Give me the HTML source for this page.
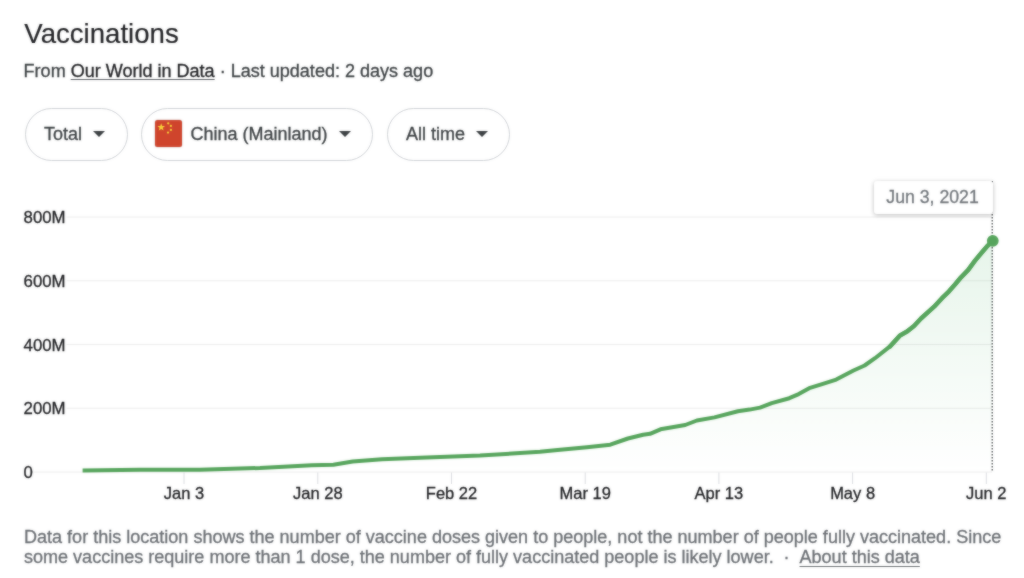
<!DOCTYPE html>
<html><head><meta charset="utf-8">
<style>
*{margin:0;padding:0;box-sizing:border-box}
html,body{width:1024px;height:578px;background:#fff;overflow:hidden}
body{position:relative;will-change:transform;font-family:"Liberation Sans",Arial,sans-serif;}
.abs{position:absolute;white-space:nowrap}
div,span{-webkit-text-stroke:0.3px currentColor}
#title{left:24.3px;top:19.6px;font-size:27.6px;line-height:27.6px;color:#202124;-webkit-text-stroke:0.15px #202124}
#sub{left:23.6px;top:62px;font-size:18.05px;line-height:18.05px;color:#3c4043}
#sub .lnk{color:#202124;text-decoration:underline;text-decoration-color:#5f6368;text-decoration-thickness:1px;text-underline-offset:2px}
.pill{position:absolute;top:108px;height:52.5px;border:1px solid #cfd2d6;border-radius:27px;background:#fff}
.pill .t{position:absolute;top:15.8px;font-size:18px;line-height:18px;color:#3c4043;white-space:nowrap}
.pill .arr{position:absolute;top:21.6px;width:0;height:0;border-left:6px solid transparent;border-right:6px solid transparent;border-top:6.2px solid #3c4043;margin-left:-1px}
.flag{position:absolute;left:13.4px;top:10.9px;width:27px;height:27px;border-radius:2.5px;background:#cf452d;overflow:hidden;box-shadow:0 0 0 0.5px rgba(0,0,0,0.15)}
.yl{position:absolute;left:23.6px;font-size:16.8px;line-height:16.8px;color:#202124;white-space:nowrap}
.xl{position:absolute;top:485.4px;width:100px;text-align:center;font-size:16.5px;line-height:16.5px;color:#202124;white-space:nowrap}
#tip{position:absolute;left:874px;top:180.6px;width:118.6px;height:33px;background:#fff;border-radius:3px;box-shadow:0 1px 4px rgba(0,0,0,0.28);}
#tip span{position:absolute;left:12.3px;top:8.0px;font-size:17.7px;line-height:17.7px;color:#70757a}
#foot{left:24px;top:526.5px;font-size:18.05px;line-height:20.8px;color:#6a6e73;white-space:nowrap}
#foot .lnk{text-decoration:underline;text-underline-offset:2.7px}
</style></head><body>
<div class="abs" id="title">Vaccinations</div>
<div class="abs" id="sub">From <span class="lnk">Our World in Data</span> · Last updated: 2 days ago</div>

<div class="pill" style="left:24.5px;width:103px"><span class="t" style="left:18.5px">Total</span><span class="arr" style="left:68.5px"></span></div>
<div class="pill" style="left:140.5px;width:232.5px"><div class="flag"><svg width="27" height="27" viewBox="0 0 27 27"><g fill="#f7d038">
<polygon points="6.2,3.2 7.2,6.0 10.1,6.0 7.8,7.8 8.6,10.6 6.2,8.9 3.8,10.6 4.6,7.8 2.3,6.0 5.2,6.0"/>
<circle cx="13.2" cy="3.3" r="1.15"/><circle cx="15.9" cy="5.9" r="1.15"/><circle cx="15.9" cy="9.9" r="1.15"/><circle cx="13.0" cy="12.6" r="1.15"/></g></svg></div><span class="t" style="left:49px">China (Mainland)</span><span class="arr" style="left:198.5px"></span></div>
<div class="pill" style="left:386.5px;width:123.5px"><span class="t" style="left:18.5px">All time</span><span class="arr" style="left:89px"></span></div>

<svg class="abs" style="left:0;top:0" width="1024" height="578" viewBox="0 0 1024 578">
<defs><linearGradient id="g" x1="0" y1="240" x2="0" y2="472" gradientUnits="userSpaceOnUse"><stop offset="0" stop-color="#34a853" stop-opacity="0.12"/><stop offset="1" stop-color="#34a853" stop-opacity="0"/></linearGradient></defs>
<line x1="66.5" y1="217" x2="992" y2="217" stroke="#ececec" stroke-width="1"/><line x1="66.5" y1="280.75" x2="992" y2="280.75" stroke="#ececec" stroke-width="1"/><line x1="66.5" y1="344.5" x2="992" y2="344.5" stroke="#ececec" stroke-width="1"/><line x1="66.5" y1="408.25" x2="992" y2="408.25" stroke="#ececec" stroke-width="1"/><line x1="34" y1="472" x2="992" y2="472" stroke="#ececec" stroke-width="1"/>
<line x1="184" y1="472.5" x2="184" y2="484" stroke="#dadce0" stroke-width="1"/><line x1="317.8" y1="472.5" x2="317.8" y2="484" stroke="#dadce0" stroke-width="1"/><line x1="451.5" y1="472.5" x2="451.5" y2="484" stroke="#dadce0" stroke-width="1"/><line x1="585.2" y1="472.5" x2="585.2" y2="484" stroke="#dadce0" stroke-width="1"/><line x1="718.9" y1="472.5" x2="718.9" y2="484" stroke="#dadce0" stroke-width="1"/><line x1="852.6" y1="472.5" x2="852.6" y2="484" stroke="#dadce0" stroke-width="1"/><line x1="986.3" y1="472.5" x2="986.3" y2="484" stroke="#dadce0" stroke-width="1"/>
<path d="M82.6,470.4 L140.0,469.7 L200.0,469.8 L260.0,468.0 L311.7,465.2 L333.4,464.8 L352.7,461.5 L382.0,459.2 L420.0,457.7 L480.0,455.6 L540.0,451.7 L557.6,450.1 L586.9,447.3 L610.3,444.7 L627.9,438.5 L643.1,434.7 L650.0,433.8 L660.5,429.3 L685.2,425.0 L696.9,420.5 L714.5,417.4 L737.9,411.2 L749.6,409.6 L760.0,407.6 L771.7,403.1 L789.3,398.2 L798.7,394.1 L809.2,388.2 L822.1,384.1 L836.2,379.6 L853.5,370.5 L864.6,365.5 L875.0,358.2 L890.0,346.4 L900.0,335.4 L907.0,331.6 L914.0,326.0 L921.0,318.5 L928.0,312.2 L935.0,305.8 L942.0,298.2 L949.0,291.3 L955.0,284.5 L961.0,277.3 L968.0,270.2 L975.0,260.6 L982.0,252.3 L987.6,245.8 L992.6,240.6 L992.6,472 L82.6,472 Z" fill="url(#g)"/>
<line x1="992.2" y1="181" x2="992.2" y2="472" stroke="#3c4043" stroke-width="1.2" stroke-dasharray="1.5,1.5"/>
<path d="M82.6,470.4 L140.0,469.7 L200.0,469.8 L260.0,468.0 L311.7,465.2 L333.4,464.8 L352.7,461.5 L382.0,459.2 L420.0,457.7 L480.0,455.6 L540.0,451.7 L557.6,450.1 L586.9,447.3 L610.3,444.7 L627.9,438.5 L643.1,434.7 L650.0,433.8 L660.5,429.3 L685.2,425.0 L696.9,420.5 L714.5,417.4 L737.9,411.2 L749.6,409.6 L760.0,407.6 L771.7,403.1 L789.3,398.2 L798.7,394.1 L809.2,388.2 L822.1,384.1 L836.2,379.6 L853.5,370.5 L864.6,365.5 L875.0,358.2 L890.0,346.4 L900.0,335.4 L907.0,331.6 L914.0,326.0 L921.0,318.5 L928.0,312.2 L935.0,305.8 L942.0,298.2 L949.0,291.3 L955.0,284.5 L961.0,277.3 L968.0,270.2 L975.0,260.6 L982.0,252.3 L987.6,245.8 L992.6,240.6" fill="none" stroke="#56a55c" stroke-width="4" stroke-linejoin="round" stroke-linecap="butt"/>
<path d="M890.0,346.4 L900.0,335.4 L907.0,331.6 L914.0,326.0 L921.0,318.5 L928.0,312.2 L935.0,305.8 L942.0,298.2 L949.0,291.3 L955.0,284.5 L961.0,277.3 L968.0,270.2 L975.0,260.6 L982.0,252.3 L987.6,245.8 L992.6,240.6" fill="none" stroke="#56a55c" stroke-width="4.5" stroke-linejoin="round" stroke-linecap="round"/>
<circle cx="992.8" cy="240.8" r="5.9" fill="#56a55c"/>
</svg>
<div class="yl" style="top:210.00px">800M</div><div class="yl" style="top:273.75px">600M</div><div class="yl" style="top:337.50px">400M</div><div class="yl" style="top:401.25px">200M</div><div class="yl" style="top:465.00px">0</div>
<div class="xl" style="left:134.00px">Jan 3</div><div class="xl" style="left:267.80px">Jan 28</div><div class="xl" style="left:401.50px">Feb 22</div><div class="xl" style="left:535.20px">Mar 19</div><div class="xl" style="left:668.90px">Apr 13</div><div class="xl" style="left:802.60px">May 8</div><div class="xl" style="left:936.30px">Jun 2</div>
<div id="tip"><span>Jun 3, 2021</span></div>
<div class="abs" id="foot">Data for this location shows the number of vaccine doses given to people, not the number of people fully vaccinated. Since<br>some vaccines require more than 1 dose, the number of fully vaccinated people is likely lower. <span style="margin:0 6px 0 4.8px">·</span> <span class="lnk">About this data</span></div>
<div style="position:absolute;left:0;top:0;width:1024px;height:578px;backdrop-filter:blur(0.8px);opacity:0.5"></div>
</body></html>
